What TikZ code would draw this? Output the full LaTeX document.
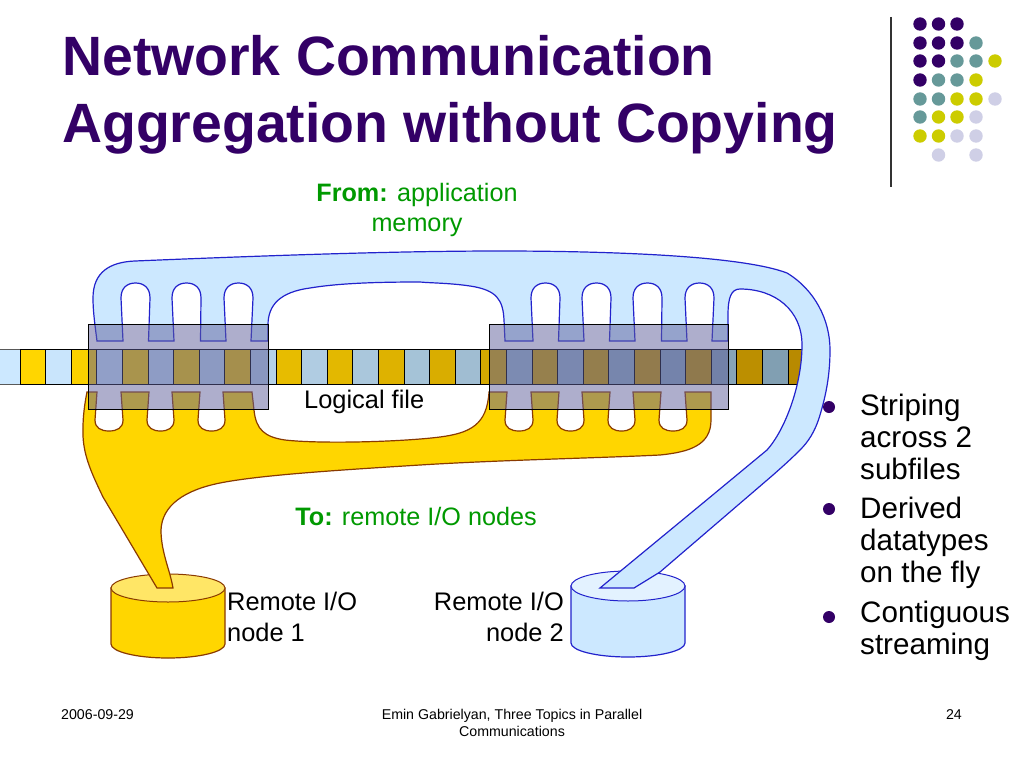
\documentclass[tikz,border=0pt]{standalone}
\usepackage{fontspec}
\setmainfont{Liberation Sans}
\definecolor{titlepurple}{HTML}{330066}
\definecolor{dotteal}{HTML}{669999}
\definecolor{dotyellow}{HTML}{CCCC00}
\definecolor{dotlilac}{HTML}{CFCFE6}
\definecolor{labelgreen}{HTML}{009900}
\definecolor{yelA}{HTML}{FFD600}
\definecolor{yelB}{HTML}{B88A00}
\definecolor{bluA}{HTML}{CCE8FF}
\definecolor{bluB}{HTML}{7F9DB0}
\definecolor{blueedge}{HTML}{2222CC}
\definecolor{yeledge}{HTML}{8A3A00}
\definecolor{overlay}{HTML}{5F5F9A}
\newcommand{\bgap}[2]{-- (#1+2,298) .. controls (#1+2,288) and (#1-4,283) .. ({(#1+#2)/2},283) .. controls (#2+4,283) and (#2-2,288) .. (#2-2,298) -- (#2,341) -- (#2-25.5,341)}
\newcommand{\ygap}[3]{-- (#1-2,420) .. controls (#1-2,428) and (#1+4,431) .. ({(#1+#2)/2},431) .. controls (#2-4,431) and (#2+2,428) .. (#2+2,420) -- (#2,392) -- (#3,392)}
\tikzset{
  dot/.style={circle,inner sep=0pt,minimum size=13.4pt},
  titletext/.style={anchor=base west,inner sep=0pt,font=\fontsize{55.4}{60}\selectfont\bfseries,text=titlepurple},
  bodytext/.style={anchor=base west,inner sep=0pt,font=\fontsize{25.4}{30}\selectfont},
  greentext/.style={anchor=base,inner sep=0pt,font=\fontsize{25.2}{30}\selectfont,text=labelgreen},
  bullettext/.style={anchor=base west,inner sep=0pt,font=\fontsize{29.6}{32}\selectfont},
  foottext/.style={inner sep=0pt,font=\fontsize{14.2}{19}\selectfont},
  bulletdot/.style={circle,inner sep=0pt,minimum size=12pt,fill=titlepurple},
  cellbox/.style={draw=black,line width=1pt},
  blueshape/.style={draw=blueedge,line width=1.2pt,fill=bluA},
  yelshape/.style={draw=yeledge,line width=1.2pt,fill=yelA},
  overlaybox/.style={draw=black,line width=1pt,fill=overlay,fill opacity=.5},
}
\begin{document}
\begin{tikzpicture}[x=1pt,y=-1pt]
\useasboundingbox (0,0) rectangle (1024,768);
\fill[white] (0,0) rectangle (1024,768);
% title
\node[titletext] (t1) at (62,75) {Network Communication};
\node[titletext] (t2) at (62,142) {Aggregation without Copying};
% decoration
\draw[line width=1.3pt,black!80] (891,17) -- (891,187);
\foreach \c/\y/\l in {
 titlepurple/24/{920,938.5,957},
 titlepurple/43/{920,938.5,957},
 dotteal/43/{976},
 titlepurple/61/{920,938.5},
 dotteal/61/{957,976},
 dotyellow/61/{995},
 titlepurple/80/{920},
 dotteal/80/{938.5,957},
 dotyellow/80/{976},
 dotteal/99/{920,938.5},
 dotyellow/99/{957,976},
 dotlilac/99/{995},
 dotteal/117/{920},
 dotyellow/117/{938.5,957},
 dotlilac/117/{976},
 dotyellow/136/{920,938.5},
 dotlilac/136/{957,976},
 dotlilac/155/{938.5,976}}
 { \foreach \x in \l { \node[dot,fill=\c] at (\x,\y) {}; } }
% strip
\fill[bluA] (0,349) rectangle (20,384);
\foreach \i in {0,...,30}{
  \pgfmathsetmacro{\xa}{20+25.6*\i}
  \pgfmathsetmacro{\xb}{20+25.6*(\i+1)}
  \pgfmathtruncatemacro{\p}{100-100*\i/30}
  \pgfmathtruncatemacro{\m}{mod(\i,2)}
  \ifnum\m=0
    \draw[cellbox,fill=yelA!\p!yelB] (\xa,349) rectangle (\xb,384);
  \else
    \draw[cellbox,fill=bluA!\p!bluB] (\xa,349) rectangle (\xb,384);
  \fi
}
\draw[line width=1pt,black!65] (0,349) -- (20,349) (0,384) -- (20,384);
% cylinders
\path[yelshape] (111,588) -- (111,644) .. controls (111,651.7) and (136.6,658) .. (168,658) .. controls (199.4,658) and (225,651.7) .. (225,644) -- (225,588) -- cycle;
\draw[yeledge,line width=1pt,fill=yelA!60!white] (168,588) ellipse [x radius=57,y radius=14];
\path[blueshape] (571,586) -- (571,643) .. controls (571,650.7) and (596.6,657) .. (628,657) .. controls (659.4,657) and (685,650.7) .. (685,643) -- (685,586) -- cycle;
\draw[blueedge,line width=1pt,fill=bluA!55!white] (628,586) ellipse [x radius=57,y radius=15];
% blue flow
\path[blueshape] (97,341) .. controls (95,325) and (93,312) .. (93,298)
  .. controls (93,272) and (110,262) .. (135,261)
  .. controls (280,255) and (400,251) .. (500,251)
  .. controls (600,251) and (740,255) .. (787,273)
  .. controls (815,290) and (830,320) .. (830,350)
  .. controls (830,375) and (826,395) .. (820,415)
  .. controls (815,432) and (808,442) .. (800,450)
  .. controls (790,460) and (782,467) .. (773,475)
  -- (660,572) -- (634,588) -- (600,588) -- (703,503) -- (767,450)
  .. controls (785,430) and (802,385) .. (802,345)
  .. controls (802,310) and (775,289) .. (740,289)
  .. controls (731,289) and (728,298) .. (728,315)
  -- (728,341) -- (712,341)
  \bgap{712}{687} \bgap{660}{635} \bgap{609}{584} \bgap{558}{533}
  -- (505,341) -- (504,320) .. controls (503,300) and (497,290) .. (470,286)
  .. controls (450,283) and (430,283) .. (420,282)
  .. controls (380,282) and (340,283) .. (310,288)
  .. controls (280,292) and (268,305) .. (268,325)
  -- (268,341) -- (251,341)
  \bgap{251}{226} \bgap{199}{174} \bgap{148}{123}
  -- cycle;
% yellow flow
\path[yelshape] (87,392) -- (97,392)
  \ygap{97}{121}{149} \ygap{149}{172}{200} \ygap{200}{223}{252}
  -- (254,410) .. controls (256,430) and (265,437) .. (285,440)
  .. controls (320,444) and (400,442) .. (440,437)
  .. controls (470,433) and (487,425) .. (489,392)
  -- (507,392)
  \ygap{507}{531}{559} \ygap{559}{582}{610} \ygap{610}{633}{661} \ygap{661}{685}{711}
  -- (711,420)
  .. controls (711,445) and (690,452) .. (660,455)
  .. controls (600,458) and (500,460) .. (420,465)
  .. controls (340,470) and (260,475) .. (220,483)
  .. controls (185,490) and (162,505) .. (161,530)
  .. controls (161,552) and (170,570) .. (173,588)
  -- (157,588) -- (103,497)
  .. controls (90,470) and (82,452) .. (83,428)
  .. controls (83,415) and (85,402) .. (87,392) -- cycle;
% overlays
\path[overlaybox] (88,324) rectangle (268,409);
\path[overlaybox] (489,324) rectangle (728,409);
% labels
\node[greentext] (from) at (417,201) {\textbf{From:} application};
\node[greentext] (mem) at (417,231) {memory};
\node[bodytext] (lf) at (304,408) {Logical file};
\node[greentext] (to) at (416,525) {\textbf{To:} remote I/O nodes};
\node[bodytext] (r1a) at (227,610) {Remote I/O};
\node[bodytext] (r1b) at (227,641) {node 1};
\node[bodytext,anchor=base east] (r2a) at (564,610) {Remote I/O};
\node[bodytext,anchor=base east] (r2b) at (564,641) {node 2};
% bullets
\node[bulletdot] (b1) at (829,407) {};
\node[bulletdot] (b2) at (829,509) {};
\node[bulletdot] (b3) at (829,617) {};
\node[bullettext] (b1a) at (860,415) {Striping};
\node[bullettext] (b1b) at (860,447) {across 2};
\node[bullettext] (b1c) at (860,479) {subfiles};
\node[bullettext] (b2a) at (860,518) {Derived};
\node[bullettext] (b2b) at (860,550) {datatypes};
\node[bullettext] (b2c) at (860,582) {on the fly};
\node[bullettext] (b3a) at (860,622) {Contiguous};
\node[bullettext] (b3b) at (860,654) {streaming};
% footer
\node[foottext,anchor=base west] (f1) at (61,719) {2006-09-29};
\node[foottext,anchor=base] (f2) at (512,719) {Emin Gabrielyan, Three Topics in Parallel};
\node[foottext,anchor=base] (f3) at (512,736) {Communications};
\node[foottext,anchor=base east] (f4) at (962,719) {24};
\end{tikzpicture}
\end{document}
